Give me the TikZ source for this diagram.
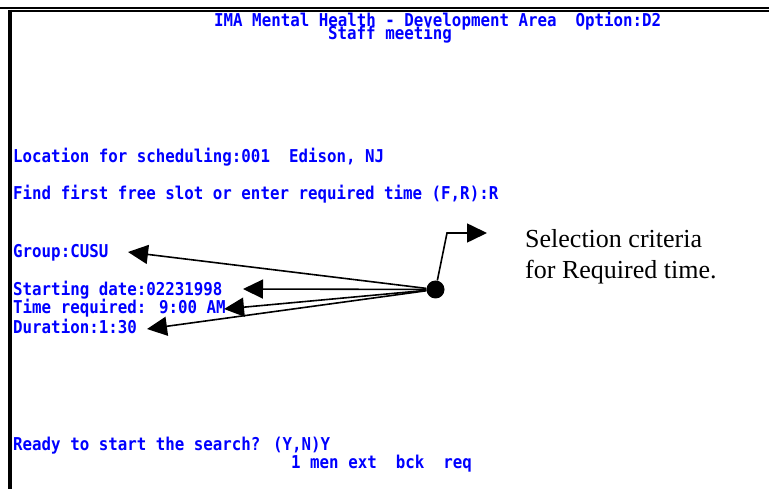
\documentclass[tikz,border=0pt]{standalone}
\usepackage{graphicx}
\usepackage{fontspec}
\setmainfont{Liberation Serif}
\newfontfamily\termfont{DejaVu Sans Mono}
\usetikzlibrary{arrows.meta}
\definecolor{termblue}{RGB}{0,0,255}

% terminal lines are set a little taller than the mono font's natural shape
\newcommand\tallterm[1]{\scalebox{1}[1.12]{#1}}

\tikzset{
  term/.style={anchor=base west, inner sep=0pt, text=termblue,
    font=\termfont\bfseries\fontsize{15.8}{18}\selectfont},
  note/.style={anchor=base west, inner sep=0pt, text=black,
    font=\fontsize{26}{32}\selectfont},
  pointer/.style={line width=1.6pt, -{Triangle[length=20pt,width=19pt]}},
  hubdot/.style={circle, fill=black, minimum size=18pt, inner sep=0pt},
  frameline/.style={line width=2pt},
}

\begin{document}
\begin{tikzpicture}[x=1pt, y=-1pt]
\useasboundingbox (0,0) rectangle (769,489);

% screen frame: double rule on top, heavy rule on the left
\draw[frameline] (0,8) -- (769,8);
\draw[frameline] (8,11) -- (769,11);
\draw[line width=4pt] (10.3,10) -- (10.3,489);

% screen text (header lines sit tight together, as on the terminal)
\node[term, text depth=0pt] (title) at (214,26.5) {\tallterm{IMA Mental Health - Development Area\ \ Option:D2}};
\node[term, text height=10pt] (sub) at (328,40) {\tallterm{Staff meeting}};
\node[term] (loc)   at (13,163) {\tallterm{Location for scheduling:001\ \ Edison, NJ}};
\node[term] (find)  at (13,200) {\tallterm{Find first free slot or enter required time (F,R):R}};
\node[term] (group) at (13,258) {\tallterm{Group:CUSU}};
\node[term] (start) at (13,295.5) {\tallterm{Starting date:02231998}};
\node[term] (treq)  at (13,313) {\tallterm{Time required: 9:00 AM}};
\node[term] (dur)   at (13,334) {\tallterm{Duration:1:30}};
\node[term] (ready) at (13,450) {\tallterm{Ready to start the search? (Y,N)Y}};
\node[term] (menu)  at (291,468) {\tallterm{1 men ext\ \ bck\ \ req}};

% annotation
\node[note] (sel1) at (525,247.3) {Selection criteria};
\node[note] (sel2) at (525,279) {for Required time.};

% pointer hub and its arrows
\node[hubdot] (hub) at (435.5,289.5) {};
\coordinate (tipGroup) at (128,252);
\coordinate (tipStart) at (243,289);
\coordinate (tipTime)  at (224,309);
\coordinate (tipDur)   at (147,329);
\coordinate (bend)     at (447,233);
\coordinate (tipNote)  at (487,233);

\draw[pointer] (hub) -- (tipGroup);
\draw[pointer] (hub) -- (tipStart);
\draw[pointer] (hub) -- (tipTime);
\draw[pointer] (hub) -- (tipDur);
\draw[pointer] (hub) -- (bend) -- (tipNote);
\end{tikzpicture}
\end{document}
